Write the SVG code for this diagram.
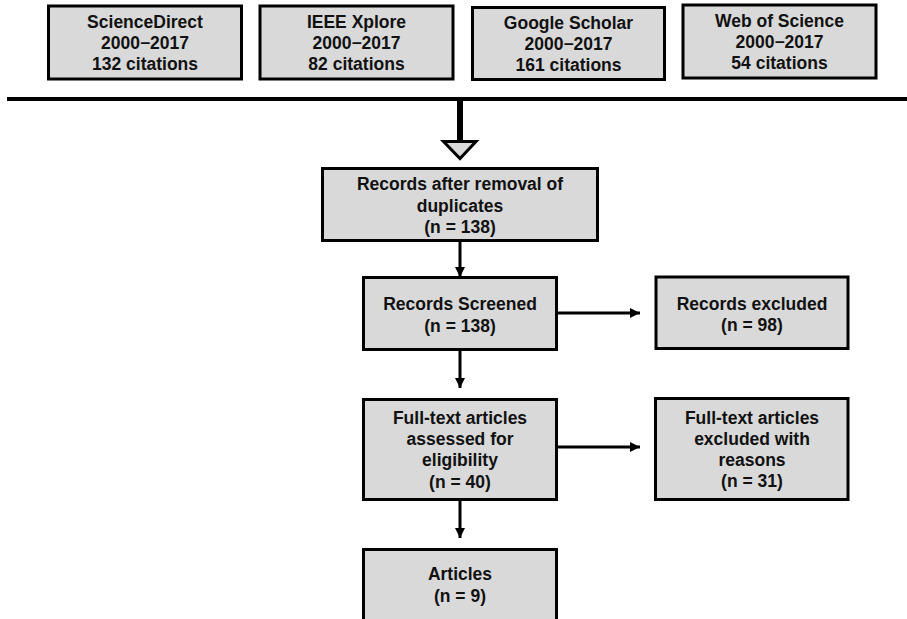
<svg xmlns="http://www.w3.org/2000/svg" width="907" height="619" viewBox="0 0 907 619">
<style>
  .box { fill: #d9d9d9; stroke: #000; stroke-width: 3; }
  .t { font-family: "Liberation Sans", Arial, sans-serif; font-weight: bold; font-size: 17.5px; text-anchor: middle; fill: #111; }
  .ln { stroke: #000; stroke-width: 3; fill: none; }
</style>
<defs>
  <marker id="ah" viewBox="0 0 10 10" refX="10" refY="5" markerWidth="10" markerHeight="10" markerUnits="userSpaceOnUse" orient="auto">
    <path d="M0,0 L10,5 L0,10 Z" fill="#000"/>
  </marker>
</defs>
<rect width="907" height="619" fill="#fff"/>

<g id="n-sciencedirect">
  <rect class="box" x="48.5" y="6" width="193" height="73"/>
  <text class="t" x="145" y="28">ScienceDirect</text>
  <text class="t" x="145" y="49">2000−2017</text>
  <text class="t" x="145" y="70">132 citations</text>
</g>
<g id="n-ieee">
  <rect class="box" x="260" y="6" width="193" height="73"/>
  <text class="t" x="356.5" y="28">IEEE Xplore</text>
  <text class="t" x="356.5" y="49">2000−2017</text>
  <text class="t" x="356.5" y="70">82 citations</text>
</g>
<g id="n-scholar">
  <rect class="box" x="472.5" y="7.5" width="192" height="72"/>
  <text class="t" x="568.5" y="29">Google Scholar</text>
  <text class="t" x="568.5" y="50">2000−2017</text>
  <text class="t" x="568.5" y="71">161 citations</text>
</g>
<g id="n-wos">
  <rect class="box" x="683" y="5" width="193" height="73"/>
  <text class="t" x="779.5" y="27">Web of Science</text>
  <text class="t" x="779.5" y="48">2000−2017</text>
  <text class="t" x="779.5" y="69">54 citations</text>
</g>

<g id="connectors">
  <line x1="7" y1="99" x2="907" y2="99" stroke="#000" stroke-width="4"/>
  <line x1="460" y1="99" x2="460" y2="142" stroke="#000" stroke-width="6"/>
  <path d="M443.5,141.5 L476,141.5 L460,158.5 Z" fill="#d9d9d9" stroke="#000" stroke-width="3" stroke-linejoin="miter"/>
  <line class="ln" x1="460" y1="241" x2="460" y2="277" marker-end="url(#ah)"/>
  <line class="ln" x1="460" y1="350" x2="460" y2="388" marker-end="url(#ah)"/>
  <line class="ln" x1="460" y1="500" x2="460" y2="538" marker-end="url(#ah)"/>
  <line class="ln" x1="556" y1="313" x2="640" y2="313" marker-end="url(#ah)"/>
  <line class="ln" x1="556" y1="447" x2="640" y2="447" marker-end="url(#ah)"/>
</g>

<g id="n-dedup">
  <rect class="box" x="322.5" y="168.5" width="275" height="72"/>
  <text class="t" x="460" y="190">Records after removal of</text>
  <text class="t" x="460" y="211.5">duplicates</text>
  <text class="t" x="460" y="232.5">(n = 138)</text>
</g>
<g id="n-screened">
  <rect class="box" x="363.5" y="277.5" width="193" height="72"/>
  <text class="t" x="460" y="310">Records Screened</text>
  <text class="t" x="460" y="331.5">(n = 138)</text>
</g>
<g id="n-excluded">
  <rect class="box" x="656" y="277" width="192" height="71.5"/>
  <text class="t" x="752" y="309.5">Records excluded</text>
  <text class="t" x="752" y="330.5">(n = 98)</text>
</g>
<g id="n-fulltext">
  <rect class="box" x="363.5" y="399.5" width="193" height="100"/>
  <text class="t" x="460" y="423.5">Full-text articles</text>
  <text class="t" x="460" y="445">assessed for</text>
  <text class="t" x="460" y="466">eligibility</text>
  <text class="t" x="460" y="487.5">(n = 40)</text>
</g>
<g id="n-ft-excluded">
  <rect class="box" x="655.5" y="398.5" width="192.5" height="101"/>
  <text class="t" x="752" y="423.5">Full-text articles</text>
  <text class="t" x="752" y="445">excluded with</text>
  <text class="t" x="752" y="466">reasons</text>
  <text class="t" x="752" y="487">(n = 31)</text>
</g>
<g id="n-articles">
  <rect class="box" x="363.5" y="549.5" width="193" height="80"/>
  <text class="t" x="460" y="580">Articles</text>
  <text class="t" x="460" y="601.5">(n = 9)</text>
</g>
</svg>
